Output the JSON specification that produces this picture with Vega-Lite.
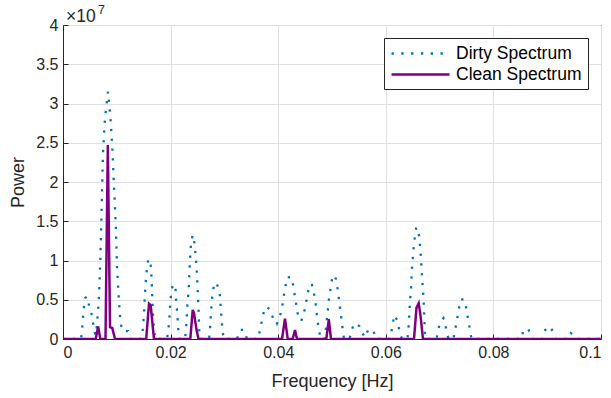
{
  "$schema": "https://vega.github.io/schema/vega-lite/v6.json",
  "width": 538,
  "height": 314,
  "autosize": {"type": "none"},
  "padding": {"left": 63, "top": 25, "right": 10, "bottom": 59},
  "background": "white",
  "config": {
    "font": "Liberation Sans",
    "view": {"stroke": "#262626", "strokeWidth": 1},
    "axis": {
      "domainColor": "#262626",
      "tickColor": "#262626",
      "labelColor": "#262626",
      "titleColor": "#262626",
      "gridColor": "#e0e0e0",
      "gridWidth": 1,
      "labelFontSize": 16,
      "titleFontSize": 18,
      "titleFontWeight": "normal",
      "tickSize": -5,
      "labelPadding": 10,
      "labelOverlap": false
    }
  },
  "datasets": {
    "spec": [
      {"s":"Dirty Spectrum","f":0,"p":0},
      {"s":"Dirty Spectrum","f":0.00335,"p":0},
      {"s":"Dirty Spectrum","f":0.00353,"p":0.11e7},
      {"s":"Dirty Spectrum","f":0.00366,"p":0.22e7},
      {"s":"Dirty Spectrum","f":0.00377,"p":0.33e7},
      {"s":"Dirty Spectrum","f":0.0039,"p":0.42e7},
      {"s":"Dirty Spectrum","f":0.00409,"p":0.52e7},
      {"s":"Dirty Spectrum","f":0.00446,"p":0.54e7},
      {"s":"Dirty Spectrum","f":0.00483,"p":0.43e7},
      {"s":"Dirty Spectrum","f":0.00526,"p":0.34e7},
      {"s":"Dirty Spectrum","f":0.00545,"p":0.25e7},
      {"s":"Dirty Spectrum","f":0.00571,"p":0.16e7},
      {"s":"Dirty Spectrum","f":0.00589,"p":0.085e7},
      {"s":"Dirty Spectrum","f":0.00606,"p":0.05e7},
      {"s":"Dirty Spectrum","f":0.00619,"p":0.08e7},
      {"s":"Dirty Spectrum","f":0.00664,"p":0.475e7},
      {"s":"Dirty Spectrum","f":0.00693,"p":0.985e7},
      {"s":"Dirty Spectrum","f":0.00719,"p":1.69e7},
      {"s":"Dirty Spectrum","f":0.00743,"p":2.37e7},
      {"s":"Dirty Spectrum","f":0.00781,"p":2.81e7},
      {"s":"Dirty Spectrum","f":0.00836,"p":3.15e7},
      {"s":"Dirty Spectrum","f":0.00879,"p":2.85e7},
      {"s":"Dirty Spectrum","f":0.00916,"p":2.45e7},
      {"s":"Dirty Spectrum","f":0.00948,"p":1.94e7},
      {"s":"Dirty Spectrum","f":0.0098,"p":1.47e7},
      {"s":"Dirty Spectrum","f":0.01004,"p":0.92e7},
      {"s":"Dirty Spectrum","f":0.01035,"p":0.54e7},
      {"s":"Dirty Spectrum","f":0.01065,"p":0.24e7},
      {"s":"Dirty Spectrum","f":0.01097,"p":0.11e7},
      {"s":"Dirty Spectrum","f":0.01152,"p":0.1e7},
      {"s":"Dirty Spectrum","f":0.01208,"p":0.1e7},
      {"s":"Dirty Spectrum","f":0.01245,"p":0},
      {"s":"Dirty Spectrum","f":0.0145,"p":0},
      {"s":"Dirty Spectrum","f":0.01481,"p":0.115e7},
      {"s":"Dirty Spectrum","f":0.01506,"p":0.31e7},
      {"s":"Dirty Spectrum","f":0.01519,"p":0.52e7},
      {"s":"Dirty Spectrum","f":0.01537,"p":0.72e7},
      {"s":"Dirty Spectrum","f":0.01561,"p":0.91e7},
      {"s":"Dirty Spectrum","f":0.01586,"p":1.015e7},
      {"s":"Dirty Spectrum","f":0.01617,"p":1.006e7},
      {"s":"Dirty Spectrum","f":0.01636,"p":0.91e7},
      {"s":"Dirty Spectrum","f":0.01649,"p":0.72e7},
      {"s":"Dirty Spectrum","f":0.0166,"p":0.52e7},
      {"s":"Dirty Spectrum","f":0.01673,"p":0.31e7},
      {"s":"Dirty Spectrum","f":0.01691,"p":0.115e7},
      {"s":"Dirty Spectrum","f":0.01716,"p":0},
      {"s":"Dirty Spectrum","f":0.01933,"p":0},
      {"s":"Dirty Spectrum","f":0.01957,"p":0.115e7},
      {"s":"Dirty Spectrum","f":0.01976,"p":0.24e7},
      {"s":"Dirty Spectrum","f":0.01989,"p":0.41e7},
      {"s":"Dirty Spectrum","f":0.02002,"p":0.52e7},
      {"s":"Dirty Spectrum","f":0.02013,"p":0.62e7},
      {"s":"Dirty Spectrum","f":0.0205,"p":0.7e7},
      {"s":"Dirty Spectrum","f":0.02095,"p":0.62e7},
      {"s":"Dirty Spectrum","f":0.021,"p":0.52e7},
      {"s":"Dirty Spectrum","f":0.02113,"p":0.41e7},
      {"s":"Dirty Spectrum","f":0.02132,"p":0.24e7},
      {"s":"Dirty Spectrum","f":0.02143,"p":0.115e7},
      {"s":"Dirty Spectrum","f":0.02165,"p":0},
      {"s":"Dirty Spectrum","f":0.02268,"p":0},
      {"s":"Dirty Spectrum","f":0.02286,"p":0.115e7},
      {"s":"Dirty Spectrum","f":0.0231,"p":0.41e7},
      {"s":"Dirty Spectrum","f":0.02336,"p":0.62e7},
      {"s":"Dirty Spectrum","f":0.02348,"p":0.815e7},
      {"s":"Dirty Spectrum","f":0.02361,"p":1.015e7},
      {"s":"Dirty Spectrum","f":0.02379,"p":1.22e7},
      {"s":"Dirty Spectrum","f":0.02411,"p":1.325e7},
      {"s":"Dirty Spectrum","f":0.02435,"p":1.26e7},
      {"s":"Dirty Spectrum","f":0.02454,"p":1.155e7},
      {"s":"Dirty Spectrum","f":0.02478,"p":0.955e7},
      {"s":"Dirty Spectrum","f":0.02496,"p":0.75e7},
      {"s":"Dirty Spectrum","f":0.02509,"p":0.54e7},
      {"s":"Dirty Spectrum","f":0.02522,"p":0.33e7},
      {"s":"Dirty Spectrum","f":0.02532,"p":0.115e7},
      {"s":"Dirty Spectrum","f":0.02552,"p":0},
      {"s":"Dirty Spectrum","f":0.02714,"p":0},
      {"s":"Dirty Spectrum","f":0.02732,"p":0.12e7},
      {"s":"Dirty Spectrum","f":0.02751,"p":0.35e7},
      {"s":"Dirty Spectrum","f":0.02775,"p":0.55e7},
      {"s":"Dirty Spectrum","f":0.02797,"p":0.65e7},
      {"s":"Dirty Spectrum","f":0.02835,"p":0.72e7},
      {"s":"Dirty Spectrum","f":0.02857,"p":0.71e7},
      {"s":"Dirty Spectrum","f":0.02887,"p":0.645e7},
      {"s":"Dirty Spectrum","f":0.02918,"p":0.55e7},
      {"s":"Dirty Spectrum","f":0.02937,"p":0.35e7},
      {"s":"Dirty Spectrum","f":0.0295,"p":0.24e7},
      {"s":"Dirty Spectrum","f":0.02961,"p":0.135e7},
      {"s":"Dirty Spectrum","f":0.0298,"p":0.04e7},
      {"s":"Dirty Spectrum","f":0.02993,"p":0},
      {"s":"Dirty Spectrum","f":0.03234,"p":0},
      {"s":"Dirty Spectrum","f":0.0329,"p":0.115e7},
      {"s":"Dirty Spectrum","f":0.03364,"p":0.115e7},
      {"s":"Dirty Spectrum","f":0.0342,"p":0},
      {"s":"Dirty Spectrum","f":0.03625,"p":0},
      {"s":"Dirty Spectrum","f":0.03662,"p":0.115e7},
      {"s":"Dirty Spectrum","f":0.03693,"p":0.22e7},
      {"s":"Dirty Spectrum","f":0.03723,"p":0.32e7},
      {"s":"Dirty Spectrum","f":0.03768,"p":0.41e7},
      {"s":"Dirty Spectrum","f":0.03848,"p":0.38e7},
      {"s":"Dirty Spectrum","f":0.03894,"p":0.285e7},
      {"s":"Dirty Spectrum","f":0.03928,"p":0.21e7},
      {"s":"Dirty Spectrum","f":0.03972,"p":0.19e7},
      {"s":"Dirty Spectrum","f":0.0403,"p":0.285e7},
      {"s":"Dirty Spectrum","f":0.04065,"p":0.38e7},
      {"s":"Dirty Spectrum","f":0.04095,"p":0.49e7},
      {"s":"Dirty Spectrum","f":0.04113,"p":0.59e7},
      {"s":"Dirty Spectrum","f":0.0414,"p":0.69e7},
      {"s":"Dirty Spectrum","f":0.04164,"p":0.785e7},
      {"s":"Dirty Spectrum","f":0.04238,"p":0.79e7},
      {"s":"Dirty Spectrum","f":0.04281,"p":0.68e7},
      {"s":"Dirty Spectrum","f":0.043,"p":0.59e7},
      {"s":"Dirty Spectrum","f":0.04325,"p":0.49e7},
      {"s":"Dirty Spectrum","f":0.04344,"p":0.385e7},
      {"s":"Dirty Spectrum","f":0.04374,"p":0.285e7},
      {"s":"Dirty Spectrum","f":0.04429,"p":0.23e7},
      {"s":"Dirty Spectrum","f":0.04479,"p":0.335e7},
      {"s":"Dirty Spectrum","f":0.04509,"p":0.43e7},
      {"s":"Dirty Spectrum","f":0.04535,"p":0.53e7},
      {"s":"Dirty Spectrum","f":0.04563,"p":0.63e7},
      {"s":"Dirty Spectrum","f":0.04623,"p":0.705e7},
      {"s":"Dirty Spectrum","f":0.04652,"p":0.615e7},
      {"s":"Dirty Spectrum","f":0.04684,"p":0.515e7},
      {"s":"Dirty Spectrum","f":0.04703,"p":0.41e7},
      {"s":"Dirty Spectrum","f":0.04717,"p":0.315e7},
      {"s":"Dirty Spectrum","f":0.04734,"p":0.22e7},
      {"s":"Dirty Spectrum","f":0.04758,"p":0.115e7},
      {"s":"Dirty Spectrum","f":0.0479,"p":0},
      {"s":"Dirty Spectrum","f":0.0486,"p":0},
      {"s":"Dirty Spectrum","f":0.04883,"p":0.115e7},
      {"s":"Dirty Spectrum","f":0.04901,"p":0.22e7},
      {"s":"Dirty Spectrum","f":0.04913,"p":0.32e7},
      {"s":"Dirty Spectrum","f":0.04931,"p":0.41e7},
      {"s":"Dirty Spectrum","f":0.04944,"p":0.51e7},
      {"s":"Dirty Spectrum","f":0.04968,"p":0.615e7},
      {"s":"Dirty Spectrum","f":0.04981,"p":0.71e7},
      {"s":"Dirty Spectrum","f":0.05024,"p":0.815e7},
      {"s":"Dirty Spectrum","f":0.05074,"p":0.765e7},
      {"s":"Dirty Spectrum","f":0.05099,"p":0.665e7},
      {"s":"Dirty Spectrum","f":0.05117,"p":0.57e7},
      {"s":"Dirty Spectrum","f":0.05136,"p":0.47e7},
      {"s":"Dirty Spectrum","f":0.05154,"p":0.37e7},
      {"s":"Dirty Spectrum","f":0.05173,"p":0.265e7},
      {"s":"Dirty Spectrum","f":0.05191,"p":0.165e7},
      {"s":"Dirty Spectrum","f":0.0521,"p":0.07e7},
      {"s":"Dirty Spectrum","f":0.05223,"p":0},
      {"s":"Dirty Spectrum","f":0.05325,"p":0},
      {"s":"Dirty Spectrum","f":0.05366,"p":0.115e7},
      {"s":"Dirty Spectrum","f":0.05414,"p":0.2e7},
      {"s":"Dirty Spectrum","f":0.05507,"p":0.165e7},
      {"s":"Dirty Spectrum","f":0.05571,"p":0.07e7},
      {"s":"Dirty Spectrum","f":0.05613,"p":0.02e7},
      {"s":"Dirty Spectrum","f":0.05675,"p":0.12e7},
      {"s":"Dirty Spectrum","f":0.05768,"p":0.11e7},
      {"s":"Dirty Spectrum","f":0.05818,"p":0},
      {"s":"Dirty Spectrum","f":0.06078,"p":0},
      {"s":"Dirty Spectrum","f":0.0611,"p":0.115e7},
      {"s":"Dirty Spectrum","f":0.06158,"p":0.305e7},
      {"s":"Dirty Spectrum","f":0.06214,"p":0.235e7},
      {"s":"Dirty Spectrum","f":0.06245,"p":0.135e7},
      {"s":"Dirty Spectrum","f":0.06277,"p":0.04e7},
      {"s":"Dirty Spectrum","f":0.06301,"p":0},
      {"s":"Dirty Spectrum","f":0.06403,"p":0},
      {"s":"Dirty Spectrum","f":0.06418,"p":0.115e7},
      {"s":"Dirty Spectrum","f":0.06431,"p":0.22e7},
      {"s":"Dirty Spectrum","f":0.06437,"p":0.32e7},
      {"s":"Dirty Spectrum","f":0.06444,"p":0.41e7},
      {"s":"Dirty Spectrum","f":0.06455,"p":0.52e7},
      {"s":"Dirty Spectrum","f":0.06468,"p":0.615e7},
      {"s":"Dirty Spectrum","f":0.06474,"p":0.72e7},
      {"s":"Dirty Spectrum","f":0.06481,"p":0.815e7},
      {"s":"Dirty Spectrum","f":0.06487,"p":0.91e7},
      {"s":"Dirty Spectrum","f":0.065,"p":1.015e7},
      {"s":"Dirty Spectrum","f":0.06511,"p":1.12e7},
      {"s":"Dirty Spectrum","f":0.06524,"p":1.22e7},
      {"s":"Dirty Spectrum","f":0.06543,"p":1.315e7},
      {"s":"Dirty Spectrum","f":0.06565,"p":1.41e7},
      {"s":"Dirty Spectrum","f":0.0659,"p":1.42e7},
      {"s":"Dirty Spectrum","f":0.06604,"p":1.37e7},
      {"s":"Dirty Spectrum","f":0.0663,"p":1.27e7},
      {"s":"Dirty Spectrum","f":0.06636,"p":1.17e7},
      {"s":"Dirty Spectrum","f":0.06649,"p":1.07e7},
      {"s":"Dirty Spectrum","f":0.0666,"p":0.965e7},
      {"s":"Dirty Spectrum","f":0.06667,"p":0.86e7},
      {"s":"Dirty Spectrum","f":0.06678,"p":0.76e7},
      {"s":"Dirty Spectrum","f":0.06686,"p":0.66e7},
      {"s":"Dirty Spectrum","f":0.06697,"p":0.56e7},
      {"s":"Dirty Spectrum","f":0.06704,"p":0.46e7},
      {"s":"Dirty Spectrum","f":0.0671,"p":0.36e7},
      {"s":"Dirty Spectrum","f":0.06716,"p":0.265e7},
      {"s":"Dirty Spectrum","f":0.06723,"p":0.16e7},
      {"s":"Dirty Spectrum","f":0.06729,"p":0.065e7},
      {"s":"Dirty Spectrum","f":0.06738,"p":0},
      {"s":"Dirty Spectrum","f":0.06942,"p":0},
      {"s":"Dirty Spectrum","f":0.06976,"p":0.115e7},
      {"s":"Dirty Spectrum","f":0.07007,"p":0.21e7},
      {"s":"Dirty Spectrum","f":0.07072,"p":0.265e7},
      {"s":"Dirty Spectrum","f":0.0711,"p":0.165e7},
      {"s":"Dirty Spectrum","f":0.07143,"p":0.065e7},
      {"s":"Dirty Spectrum","f":0.07165,"p":0},
      {"s":"Dirty Spectrum","f":0.07258,"p":0},
      {"s":"Dirty Spectrum","f":0.07286,"p":0.115e7},
      {"s":"Dirty Spectrum","f":0.07318,"p":0.21e7},
      {"s":"Dirty Spectrum","f":0.07336,"p":0.305e7},
      {"s":"Dirty Spectrum","f":0.07366,"p":0.41e7},
      {"s":"Dirty Spectrum","f":0.07392,"p":0.505e7},
      {"s":"Dirty Spectrum","f":0.07453,"p":0.505e7},
      {"s":"Dirty Spectrum","f":0.07491,"p":0.41e7},
      {"s":"Dirty Spectrum","f":0.07515,"p":0.305e7},
      {"s":"Dirty Spectrum","f":0.07541,"p":0.21e7},
      {"s":"Dirty Spectrum","f":0.07565,"p":0.115e7},
      {"s":"Dirty Spectrum","f":0.07593,"p":0},
      {"s":"Dirty Spectrum","f":0.08522,"p":0},
      {"s":"Dirty Spectrum","f":0.08556,"p":0.11e7},
      {"s":"Dirty Spectrum","f":0.08649,"p":0.13e7},
      {"s":"Dirty Spectrum","f":0.08699,"p":0.035e7},
      {"s":"Dirty Spectrum","f":0.08717,"p":0},
      {"s":"Dirty Spectrum","f":0.08913,"p":0},
      {"s":"Dirty Spectrum","f":0.08946,"p":0.105e7},
      {"s":"Dirty Spectrum","f":0.09052,"p":0.16e7},
      {"s":"Dirty Spectrum","f":0.09126,"p":0.07e7},
      {"s":"Dirty Spectrum","f":0.09154,"p":0},
      {"s":"Dirty Spectrum","f":0.09387,"p":0},
      {"s":"Dirty Spectrum","f":0.09437,"p":0.075e7},
      {"s":"Dirty Spectrum","f":0.09498,"p":0.05e7},
      {"s":"Dirty Spectrum","f":0.09559,"p":0.025e7},
      {"s":"Dirty Spectrum","f":0.09582,"p":0},
      {"s":"Dirty Spectrum","f":0.1,"p":0},
      {"s":"Clean Spectrum","f":0,"p":0},
      {"s":"Clean Spectrum","f":0.00608,"p":0},
      {"s":"Clean Spectrum","f":0.00654,"p":0.16e7},
      {"s":"Clean Spectrum","f":0.00693,"p":0},
      {"s":"Clean Spectrum","f":0.0079,"p":0},
      {"s":"Clean Spectrum","f":0.00833,"p":2.47e7},
      {"s":"Clean Spectrum","f":0.00874,"p":0.15e7},
      {"s":"Clean Spectrum","f":0.00916,"p":0.14e7},
      {"s":"Clean Spectrum","f":0.00967,"p":0},
      {"s":"Clean Spectrum","f":0.01546,"p":0},
      {"s":"Clean Spectrum","f":0.01599,"p":0.45e7},
      {"s":"Clean Spectrum","f":0.0163,"p":0.43e7},
      {"s":"Clean Spectrum","f":0.01691,"p":0},
      {"s":"Clean Spectrum","f":0.02366,"p":0},
      {"s":"Clean Spectrum","f":0.02411,"p":0.37e7},
      {"s":"Clean Spectrum","f":0.02435,"p":0.33e7},
      {"s":"Clean Spectrum","f":0.02481,"p":0.12e7},
      {"s":"Clean Spectrum","f":0.02519,"p":0},
      {"s":"Clean Spectrum","f":0.04071,"p":0},
      {"s":"Clean Spectrum","f":0.04126,"p":0.26e7},
      {"s":"Clean Spectrum","f":0.04177,"p":0},
      {"s":"Clean Spectrum","f":0.04269,"p":0},
      {"s":"Clean Spectrum","f":0.04312,"p":0.115e7},
      {"s":"Clean Spectrum","f":0.04349,"p":0},
      {"s":"Clean Spectrum","f":0.04894,"p":0},
      {"s":"Clean Spectrum","f":0.04941,"p":0.25e7},
      {"s":"Clean Spectrum","f":0.04981,"p":0},
      {"s":"Clean Spectrum","f":0.06524,"p":0},
      {"s":"Clean Spectrum","f":0.06571,"p":0.4e7},
      {"s":"Clean Spectrum","f":0.06612,"p":0.455e7},
      {"s":"Clean Spectrum","f":0.06645,"p":0.3e7},
      {"s":"Clean Spectrum","f":0.06691,"p":0},
      {"s":"Clean Spectrum","f":0.1,"p":0}
    ]
  },
  "data": {"name": "spec"},
  "layer": [
    {
      "transform": [{"filter": "datum.s === 'Dirty Spectrum'"}],
      "mark": {"type": "line", "strokeWidth": 2.3, "strokeCap": "butt", "clip": true},
      "encoding": {
        "x": {
          "field": "f", "type": "quantitative",
          "scale": {"domain": [0, 0.1], "nice": false, "zero": false},
          "axis": {"title": "Frequency [Hz]", "values": [0, 0.02, 0.04, 0.06, 0.08, 0.1], "format": "~g", "grid": true, "titlePadding": 12}
        },
        "y": {
          "field": "p", "type": "quantitative",
          "scale": {"domain": [0, 40000000], "nice": false},
          "axis": {"title": "Power", "values": [0, 5000000, 10000000, 15000000, 20000000, 25000000, 30000000, 35000000, 40000000], "tickCount": 9, "labelExpr": "format(datum.value / 10000000, '~g')", "grid": true, "titlePadding": 8}
        },
        "color": {
          "field": "s", "type": "nominal",
          "scale": {"domain": ["Dirty Spectrum", "Clean Spectrum"], "range": ["#0072BD", "#7E0080"]},
          "legend": {
            "title": null, "orient": "top-right", "offset": 13,
            "strokeColor": "#262626", "fillColor": "white", "padding": 6,
            "labelFontSize": 17.5, "labelColor": "#000000", "labelOffset": 47,
            "labelExpr": "datum.label + '\u00a0\u00a0\u00a0\u00a0'",
            "symbolType": "M-1,0L6.25,0", "symbolSize": 256, "symbolStrokeWidth": 2.3,
            "rowPadding": 3
          }
        },
        "strokeDash": {
          "field": "s", "type": "nominal",
          "scale": {"domain": ["Dirty Spectrum", "Clean Spectrum"], "range": [[2.3, 7.5], [1, 0]]},
          "legend": null
        }
      }
    },
    {
      "transform": [{"filter": "datum.s === 'Clean Spectrum'"}],
      "mark": {"type": "line", "strokeWidth": 2.5, "clip": true},
      "encoding": {
        "x": {
          "field": "f", "type": "quantitative",
          "axis": {"title": "Frequency [Hz]", "values": [0, 0.02, 0.04, 0.06, 0.08, 0.1], "format": "~g", "grid": true, "titlePadding": 12}
        },
        "y": {
          "field": "p", "type": "quantitative",
          "axis": {"title": "Power", "values": [0, 5000000, 10000000, 15000000, 20000000, 25000000, 30000000, 35000000, 40000000], "tickCount": 9, "labelExpr": "format(datum.value / 10000000, '~g')", "grid": true, "titlePadding": 8}
        },
        "color": {"field": "s", "type": "nominal"},
        "strokeDash": {"field": "s", "type": "nominal"}
      }
    },
    {
      "data": {"values": [{}]},
      "mark": {"type": "text", "align": "left", "baseline": "alphabetic", "fontSize": 17.5, "dx": 3, "dy": -3, "color": "#262626"},
      "encoding": {
        "x": {"datum": 0, "type": "quantitative",
          "axis": {"title": "Frequency [Hz]", "values": [0, 0.02, 0.04, 0.06, 0.08, 0.1], "format": "~g", "grid": true, "titlePadding": 12}},
        "y": {"datum": 40000000, "type": "quantitative",
          "axis": {"title": "Power", "values": [0, 5000000, 10000000, 15000000, 20000000, 25000000, 30000000, 35000000, 40000000], "tickCount": 9, "labelExpr": "format(datum.value / 10000000, '~g')", "grid": true, "titlePadding": 8}},
        "text": {"value": "×10"}
      }
    },
    {
      "data": {"values": [{}]},
      "mark": {"type": "text", "align": "left", "baseline": "alphabetic", "fontSize": 12.5, "dx": 35, "dy": -11, "color": "#262626"},
      "encoding": {
        "x": {"datum": 0, "type": "quantitative",
          "axis": {"title": "Frequency [Hz]", "values": [0, 0.02, 0.04, 0.06, 0.08, 0.1], "format": "~g", "grid": true, "titlePadding": 12}},
        "y": {"datum": 40000000, "type": "quantitative",
          "axis": {"title": "Power", "values": [0, 5000000, 10000000, 15000000, 20000000, 25000000, 30000000, 35000000, 40000000], "tickCount": 9, "labelExpr": "format(datum.value / 10000000, '~g')", "grid": true, "titlePadding": 8}},
        "text": {"value": "7"}
      }
    }
  ]
}
